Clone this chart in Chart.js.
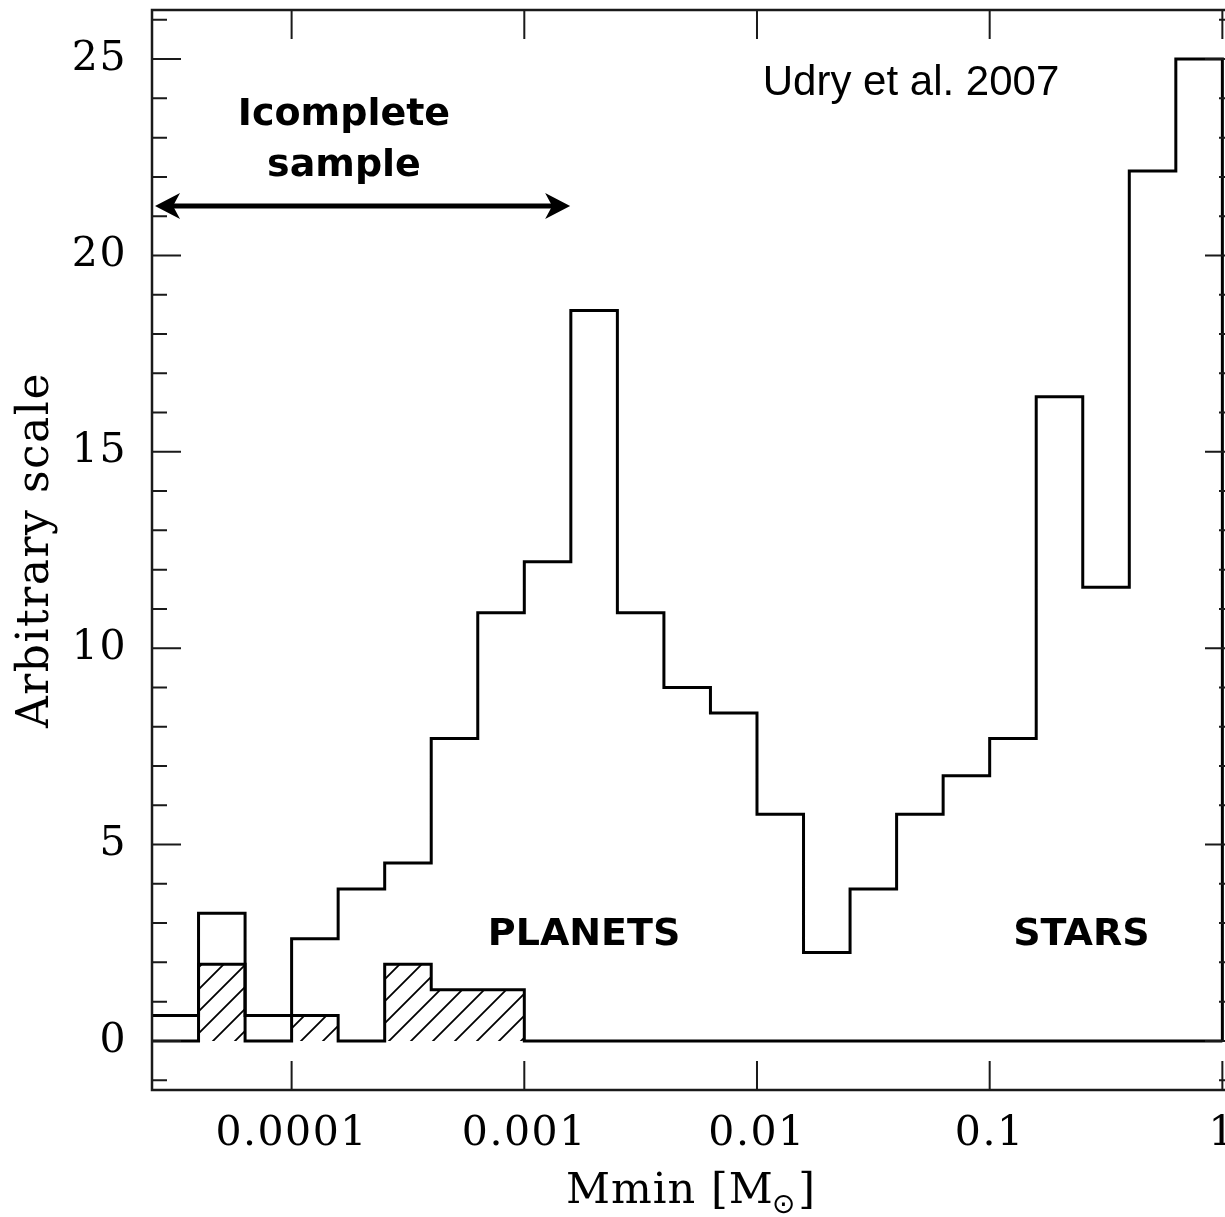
<!DOCTYPE html>
<html>
<head>
<meta charset="utf-8">
<title>Minimum mass distribution</title>
<script src="https://cdn.jsdelivr.net/npm/chart.js@4.4.1/dist/chart.umd.min.js"></script>
<style>
  html, body { margin: 0; padding: 0; background: #fff; overflow: hidden; }
  #wrap { width: 1225px; height: 1217px; overflow: hidden; }
  canvas { display: block; }
</style>
</head>
<body>
<div id="wrap"><canvas id="massChart" width="1240" height="1217"></canvas></div>
<script>
// bin edges in log10(Mmin / Msun), 0.2 dex bins
const binEdges = [-4.6, -4.4, -4.2, -4.0, -3.8, -3.6, -3.4, -3.2, -3.0, -2.8, -2.6, -2.4,
                  -2.2, -2.0, -1.8, -1.6, -1.4, -1.2, -1.0, -0.8, -0.6, -0.4, -0.2, 0.0];

// full sample (open histogram)
const allCounts = [0.65, 3.25, 0.65, 2.6, 3.87, 4.53, 7.7, 10.9, 12.2, 18.6, 10.9, 9.0,
                   8.35, 5.77, 2.25, 3.87, 5.77, 6.75, 7.7, 16.4, 11.55, 22.15, 25.0];

// hatched histogram
const hatchedCounts = [0, 1.95, 0, 0.65, 0, 1.95, 1.3, 1.3, 0, 0, 0, 0,
                       0, 0, 0, 0, 0, 0, 0, 0, 0, 0, 0];

const xTickValues = [0.0001, 0.001, 0.01, 0.1, 1];
const xTickLabels = ['0.0001', '0.001', '0.01', '0.1', '1'];
const yTickValues = [0, 5, 10, 15, 20, 25];

const SERIF = '"DejaVu Serif", "Liberation Serif", serif';
const SANS = '"DejaVu Sans", Verdana, sans-serif';
const ARIAL = '"Liberation Sans", Arial, sans-serif';

// histogram -> step points (each point holds its value up to the next edge)
function stepPoints(counts) {
  const pts = counts.map((c, i) => ({ x: Math.pow(10, binEdges[i]), y: c }));
  pts.push({ x: Math.pow(10, binEdges[binEdges.length - 1]), y: 0 });
  return pts;
}

const canvas = document.getElementById('massChart');
const ctx = canvas.getContext('2d');

// diagonal hatching tile
const tile = document.createElement('canvas');
tile.width = 22;
tile.height = 22;
const tctx = tile.getContext('2d');
tctx.strokeStyle = '#000';
tctx.lineWidth = 1.8;
tctx.beginPath();
tctx.moveTo(-2, 24); tctx.lineTo(24, -2);
tctx.moveTo(-2, 2); tctx.lineTo(2, -2);
tctx.moveTo(20, 24); tctx.lineTo(24, 20);
tctx.stroke();
const hatch = ctx.createPattern(tile, 'repeat');

function arrowHead(c, tipX, tipY, dir) {
  c.beginPath();
  c.moveTo(tipX, tipY);
  c.lineTo(tipX - dir * 25, tipY - 13);
  c.lineTo(tipX - dir * 18, tipY);
  c.lineTo(tipX - dir * 25, tipY + 13);
  c.closePath();
  c.fill();
}

// frame, inward ticks, annotations and x title
const frameAndNotes = {
  id: 'frameAndNotes',
  beforeDraw(chart) {
    // the axis lettering is widely spaced
    chart.ctx.letterSpacing = '1.5px';
  },
  afterDatasetsDraw(chart) {
    const { ctx: c, chartArea: a, scales: { x, y } } = chart;
    const px = lg => x.getPixelForValue(Math.pow(10, lg));
    c.save();
    c.strokeStyle = '#1a1a1a';
    c.lineWidth = 2;
    c.beginPath();
    for (let v = -1; v <= 26; v++) {
      const py = y.getPixelForValue(v);
      const len = v % 5 === 0 ? 29 : 15;
      c.moveTo(a.left, py); c.lineTo(a.left + len, py);
      c.moveTo(a.right, py); c.lineTo(a.right - len, py);
    }
    xTickValues.forEach(v => {
      const p = x.getPixelForValue(v);
      c.moveTo(p, a.bottom); c.lineTo(p, a.bottom - 29);
      c.moveTo(p, a.top); c.lineTo(p, a.top + 29);
    });
    c.stroke();
    c.lineWidth = 2.5;
    c.strokeRect(a.left, a.top, a.right - a.left, a.bottom - a.top);

    // double arrow over the incomplete range
    const ay = y.getPixelForValue(21.26);
    const ax0 = px(-4.587), ax1 = px(-2.803);
    c.fillStyle = '#000';
    c.strokeStyle = '#000';
    c.lineWidth = 5;
    c.beginPath();
    c.moveTo(ax0 + 15, ay); c.lineTo(ax1 - 15, ay);
    c.stroke();
    arrowHead(c, ax0, ay, -1);
    arrowHead(c, ax1, ay, 1);

    c.letterSpacing = '0px';
    c.textAlign = 'center';
    c.textBaseline = 'alphabetic';
    c.font = 'bold 38px ' + SANS;
    c.fillText('Icomplete', px(-3.775), y.getPixelForValue(23.32));
    c.fillText('sample', px(-3.775), y.getPixelForValue(22.02));
    c.fillText('PLANETS', px(-2.743), y.getPixelForValue(2.44));
    c.fillText('STARS', px(-0.606), y.getPixelForValue(2.44));
    c.font = '42px ' + ARIAL;
    c.fillText('Udry et al. 2007', px(-1.338), y.getPixelForValue(24.08));

    // x axis title with solar subscript
    c.letterSpacing = '1px';
    const base = 1203;
    c.font = '43px ' + SERIF;
    const main = 'Mmin [M';
    const wMain = c.measureText(main).width;
    const wClose = c.measureText(']').width;
    c.font = '28px ' + SANS;
    const wSun = c.measureText('\u2299').width;
    let tx = (a.left + a.right) / 2 - (wMain + wSun + wClose) / 2 - 2;
    c.textAlign = 'left';
    c.font = '43px ' + SERIF;
    c.fillText(main, tx, base);
    tx += wMain;
    c.font = '28px ' + SANS;
    c.fillText('\u2299', tx - 2, base + 10);
    tx += wSun;
    c.font = '43px ' + SERIF;
    c.fillText(']', tx, base);
    c.restore();
  }
};

new Chart(ctx, {
  type: 'line',
  data: {
    datasets: [
      {
        label: 'all',
        data: stepPoints(allCounts),
        stepped: true,
        borderColor: '#000',
        borderWidth: 3,
        pointRadius: 0,
        fill: false
      },
      {
        label: 'hatched',
        data: stepPoints(hatchedCounts),
        stepped: true,
        borderColor: '#000',
        borderWidth: 3,
        pointRadius: 0,
        backgroundColor: hatch,
        fill: 'origin'
      }
    ]
  },
  options: {
    responsive: false,
    animation: false,
    layout: { padding: { top: 10, right: 6, bottom: 0, left: 0 } },
    plugins: {
      legend: { display: false },
      tooltip: { enabled: false }
    },
    scales: {
      x: {
        type: 'logarithmic',
        min: Math.pow(10, -4.6),
        max: Math.pow(10, 0.05),
        grid: { display: false, drawTicks: false },
        border: { display: false },
        afterBuildTicks: s => { s.ticks = xTickValues.map(v => ({ value: v })); },
        afterFit: s => { s.height = 127; s.paddingLeft = 0; s.paddingRight = 0; },
        ticks: {
          autoSkip: false,
          maxRotation: 0,
          padding: 20,
          color: '#000',
          font: { family: SERIF, size: 41 },
          callback: (v, i) => xTickLabels[i]
        }
      },
      y: {
        min: -1.25,
        max: 26.25,
        grid: { display: false, drawTicks: false },
        border: { display: false },
        afterBuildTicks: s => { s.ticks = yTickValues.map(v => ({ value: v })); },
        afterFit: s => { s.width = 152; s.paddingTop = 0; s.paddingBottom = 0; },
        ticks: {
          padding: 25,
          color: '#000',
          font: { family: SERIF, size: 41 }
        },
        title: {
          display: true,
          text: 'Arbitrary scale',
          color: '#000',
          font: { family: SERIF, size: 44 },
          padding: { top: 10, bottom: 0 }
        }
      }
    }
  },
  plugins: [frameAndNotes]
});
</script>
</body>
</html>
